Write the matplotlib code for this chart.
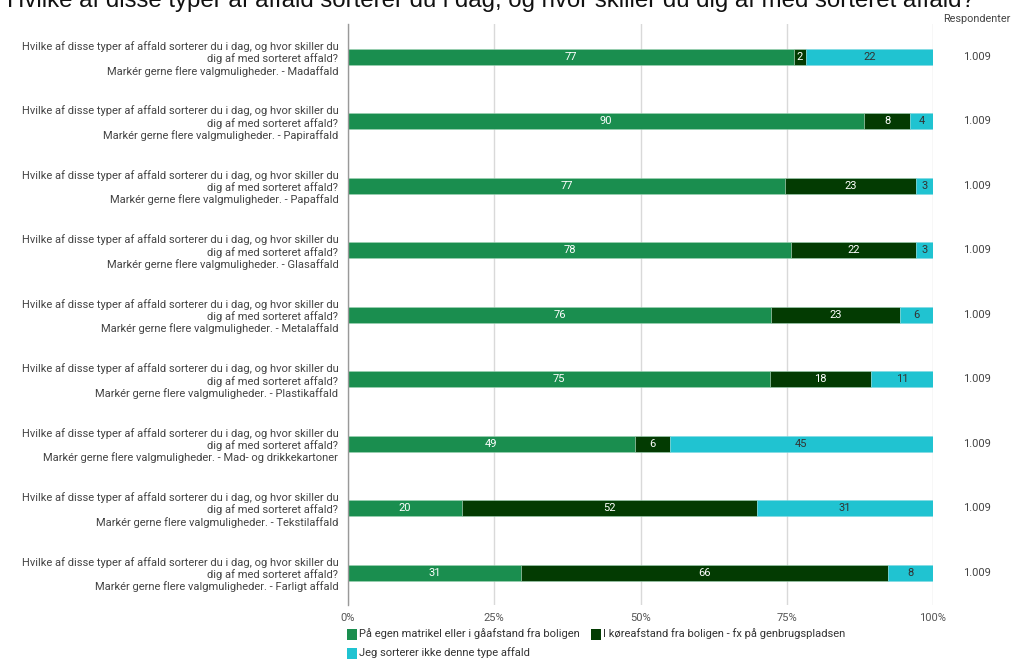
import matplotlib
matplotlib.use("Agg")
import matplotlib.pyplot as plt
import matplotlib.patches as patches
import numpy as np

plt.rcParams['font.family'] = ['Roboto', 'DejaVu Sans']

# --- DATA ---
question = ("Hvilke af disse typer af affald sorterer du i dag, og hvor skiller du\n"
            "dig af med sorteret affald?\nMarkér gerne flere valgmuligheder. - ")
categories = ["Madaffald", "Papiraffald", "Papaffald", "Glasaffald", "Metalaffald",
              "Plastikaffald", "Mad- og drikkekartoner", "Tekstilaffald", "Farligt affald"]
egen_matrikel = [77, 90, 77, 78, 76, 75, 49, 20, 31]
koereafstand = [2, 8, 23, 22, 23, 18, 6, 52, 66]
sorterer_ikke = [22, 4, 3, 3, 6, 11, 45, 31, 8]
respondenter = ["1.009"] * 9
series_names = ["På egen matrikel eller i gåafstand fra boligen",
                "I køreafstand fra boligen - fx på genbrugspladsen",
                "Jeg sorterer ikke denne type affald"]
colors = ["#1A8E4F", "#033B02", "#20C3D1"]
label_colors = ["white", "white", "#333333"]

FS = 8.0

# --- FIGURE ---
fig = plt.figure(figsize=(10.11, 6.59), dpi=100)
fig.patch.set_facecolor('white')
ax = fig.add_axes([348 / 1011, 1 - 605 / 659, 585 / 1011, 581 / 659])

values = np.array([egen_matrikel, koereafstand, sorterer_ikke], dtype=float)
totals = values.sum(axis=0)
shares = values / totals * 100
y = np.arange(len(categories))

left = np.zeros(len(categories))
for i in range(3):
    bars = ax.barh(y, shares[i], left=left, height=0.25, color=colors[i],
                   edgecolor='#9fd3b5' if i < 2 else '#7fd9e2', linewidth=0.4, zorder=3)
    ax.bar_label(bars, labels=[str(int(v)) for v in values[i]], label_type='center',
                 color=label_colors[i], fontsize=FS, zorder=4)
    left += shares[i]

ax.set_xlim(0, 100)
ax.set_ylim(len(categories) - 0.5, -0.51)
ax.set_xticks([0, 25, 50, 75, 100])
ax.set_xticklabels(["0%", "25%", "50%", "75%", "100%"], fontsize=FS, color='#555555')
ax.set_yticks(y)
ax.set_yticklabels([question + c for c in categories], fontsize=FS, color='#444444',
                   linespacing=1.17)
for lbl in ax.get_yticklabels():
    lbl.set_multialignment('right')
ax.tick_params(axis='both', length=0)
ax.tick_params(axis='y', pad=7)
ax.tick_params(axis='x', pad=6)
ax.grid(axis='x', color='#d9d9d9', linewidth=1.0, zorder=0)
for s in ['top', 'right', 'bottom']:
    ax.spines[s].set_visible(False)
ax.spines['left'].set_color('#999999')
ax.spines['left'].set_linewidth(1.0)
ax.spines['left'].set_zorder(5)

# --- RESPONDENTER COLUMN ---
ax.text(1.0 + 44 / 585, -0.59, "Respondenter", transform=ax.get_yaxis_transform(),
        fontsize=7.8, color='#444444', ha='center', va='center')
for yi, r in zip(y, respondenter):
    ax.text(1.0 + 44 / 585, yi, r, transform=ax.get_yaxis_transform(),
            fontsize=FS, color='#444444', ha='center', va='center')

# --- TITLE (cut off at top like the reference) ---
fig.text(7 / 1011, 1 - 7 / 659,
         "Hvilke af disse typer af affald sorterer du i dag, og hvor skiller du dig af med sorteret affald?",
         fontsize=17.3, color='#111111', ha='left', va='baseline',
         family=['Liberation Sans', 'DejaVu Sans'])

# --- LEGEND ---
legend_items = [(347, 634), (591, 634), (347, 653)]
for (lx, ly), name, c in zip(legend_items, series_names, colors):
    fig.patches.append(patches.Rectangle((lx / 1011, 1 - (ly + 5.5) / 659), 10 / 1011, 11 / 659,
                                         facecolor=c, edgecolor='none', transform=fig.transFigure))
    fig.text((lx + 12) / 1011, 1 - ly / 659, name, fontsize=FS, color='#333333',
             ha='left', va='center')

fig.savefig("out.png", dpi=100)
